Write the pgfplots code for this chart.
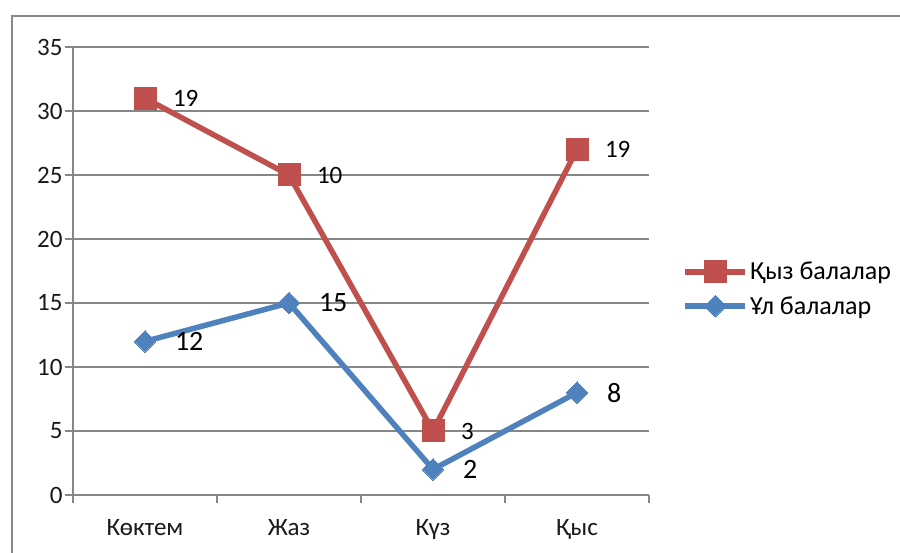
\documentclass[border=0pt]{standalone}
\usepackage{fontspec}
\setmainfont{Carlito}
\usepackage{pgfplots}
\pgfplotsset{compat=1.18}
\definecolor{myred}{HTML}{C0504D}
\definecolor{myblue}{HTML}{4F81BD}
\definecolor{axgray}{HTML}{878787}
\pgfplotstableread{
x y label
0 31 19
1 25 10
2 5 3
3 27 19
}\girls
\pgfplotstableread{
x y label
0 12 12
1 15 15
2 2 2
3 8 8
}\boys
\begin{document}
\begin{tikzpicture}
\useasboundingbox (0,0) rectangle (900pt,553pt);
\clip (0,0) rectangle (900pt,553pt);
\fill[white] (0,0) rectangle (900pt,553pt);
\draw[axgray, line width=2pt] (12pt,537pt) rectangle (920pt,-20pt);
\begin{axis}[
  at={(73pt,58pt)}, anchor=south west,
  scale only axis, width=576pt, height=448pt,
  xmin=-0.5, xmax=3.5, ymin=0, ymax=35,
  axis lines=left, axis line style={-, axgray, line width=1.5pt},
  xtick={0,1,2,3}, xticklabels={Көктем, Жаз, Күз, Қыс},
  minor xtick={-0.5,0.5,1.5,2.5,3.5},
  major tick length=8pt, minor tick length=8pt,
  every major x tick/.style={draw=none},
  ytick={0,5,...,35},
  tick align=outside,
  ymajorgrids, grid style={axgray, line width=1.5pt},
  major grid style={axgray, line width=1.5pt},
  tick style={axgray, line width=1.5pt},
  tick label style={font=\fontsize{25}{29}\selectfont, text=black!90},
  xticklabel style={yshift=-13pt},
  yticklabel style={xshift=1pt},
  /pgf/number format/assume math mode=true,
  clip=false,
  nodes near coords,
  point meta=explicit symbolic,
  legend style={at={(1.053,0.46)}, anchor=west, draw=none, fill=none,
    font=\fontsize{26}{30}\selectfont, row sep=11pt,
    /tikz/every even column/.append style={column sep=2pt}},
  legend cell align=left,
  legend image code/.code={\draw[mark repeat=2,mark phase=2] plot coordinates {(0pt,0pt) (30pt,0pt) (60pt,0pt)};},
]
\addplot[myred, line width=5.5pt, mark=square*, mark size=11pt, mark options={solid, line width=0pt},
  nodes near coords style={anchor=west, xshift=28pt, inner sep=0pt, text=black, font=\fontsize{25}{29}\selectfont}]
  table[x=x, y=y, meta=label] {\girls};
\addlegendentry{Қыз балалар}
\addplot[myblue, line width=5.5pt, mark=square*, mark size=7.6pt, mark options={solid, rotate=45, line width=0pt},
  nodes near coords style={anchor=west, xshift=30pt, inner sep=0pt, text=black, font=\fontsize{28}{32}\selectfont}]
  table[x=x, y=y, meta=label] {\boys};
\addlegendentry{Ұл балалар}
\end{axis}
\end{tikzpicture}
\end{document}
